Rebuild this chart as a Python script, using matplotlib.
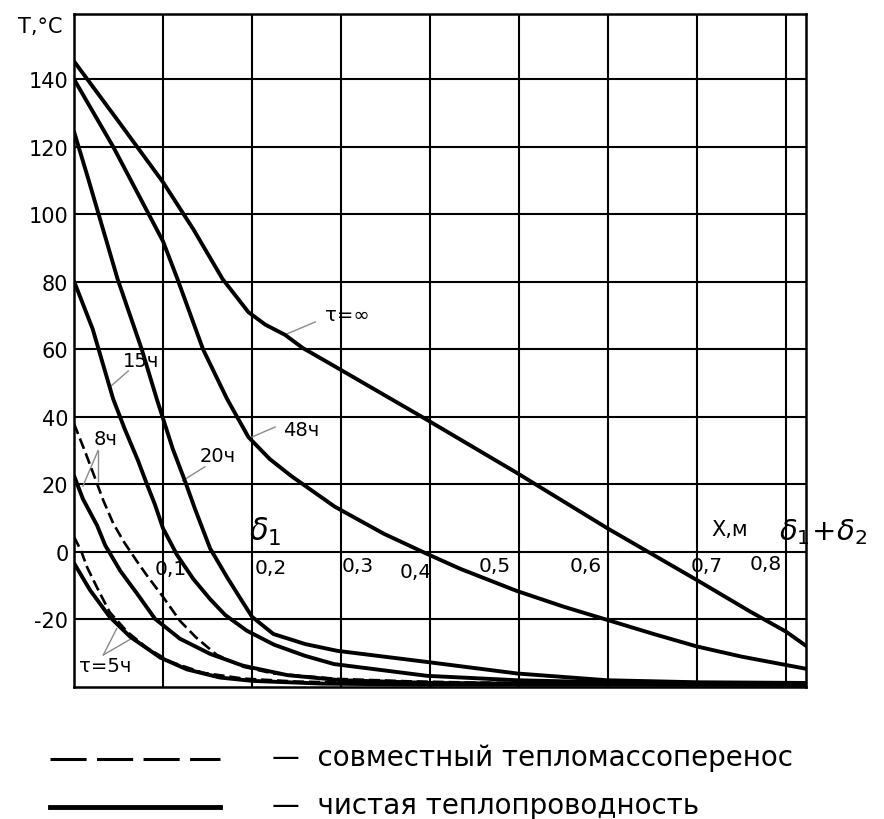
import numpy as np
import matplotlib
matplotlib.use("Agg")
import matplotlib.pyplot as plt
from matplotlib.lines import Line2D

plt.rcParams["font.family"] = ["DejaVu Sans"]
plt.rcParams["lines.scale_dashes"] = False

# ---------------- data (x in m, T in degC) ----------------
x_inf = [0, 0.05, 0.1, 0.134, 0.167, 0.196, 0.215, 0.237, 0.257, 0.294, 0.389, 0.497, 0.6, 0.701, 0.76, 0.8, 0.8225]
T_inf = [145.3, 127.5, 109.5, 95.6, 80.8, 71.0, 67.3, 64.3, 60.4, 54.8, 40.3, 23.5, 6.9, -8.5, -17.7, -23.6, -27.8]

x_48 = [0, 0.044, 0.1, 0.116, 0.145, 0.172, 0.196, 0.22, 0.244, 0.293, 0.348, 0.396, 0.434, 0.497, 0.55, 0.6, 0.65, 0.7, 0.75, 0.8225]
T_48 = [140, 120, 92, 81, 60, 45.3, 34, 27.5, 22.5, 13.4, 5.4, -0.5, -5, -11.5, -16.2, -20.2, -24.2, -28.0, -31.0, -34.6]

x_20 = [0, 0.016, 0.049, 0.076, 0.093, 0.111, 0.125, 0.136, 0.153, 0.172, 0.187, 0.2, 0.224, 0.26, 0.296, 0.394, 0.498, 0.599, 0.7, 0.8225]
T_20 = [124.5, 110.5, 80.8, 60.1, 45.3, 30.5, 20.8, 12.7, 1.0, -7.5, -13.8, -19.2, -24.3, -27.3, -29.3, -32.5, -36.0, -38.0, -38.6, -38.8]

x_15 = [0, 0.021, 0.044, 0.057, 0.072, 0.082, 0.091, 0.1, 0.116, 0.134, 0.153, 0.17, 0.194, 0.225, 0.26, 0.292, 0.397, 0.498, 0.58, 0.7, 0.8225]
T_15 = [80.2, 66.0, 45.3, 36.4, 27.0, 20.0, 14.0, 7.0, -1.0, -8.0, -14.0, -18.7, -23.3, -27.5, -30.8, -33.2, -36.7, -38.0, -38.5, -38.8, -38.9]

x_8 = [0, 0.01, 0.026, 0.035, 0.052, 0.071, 0.091, 0.119, 0.153, 0.19, 0.24, 0.3, 0.4, 0.55, 0.8225]
T_8 = [22.6, 15.7, 7.8, 2.0, -5.6, -12.4, -19.8, -25.7, -30.2, -33.7, -36.5, -38.0, -38.8, -39.1, -39.2]

x_8d = [0, 0.012, 0.023, 0.033, 0.044, 0.056, 0.07, 0.082, 0.1, 0.119, 0.137, 0.16, 0.19, 0.224, 0.296, 0.374, 0.45, 0.55, 0.8225]
T_8d = [38.0, 30.0, 22.3, 15.2, 8.5, 3.0, -2.5, -7.0, -13.3, -20.4, -25.3, -30.4, -34.0, -36.0, -37.6, -38.3, -38.7, -38.9, -39.0]

x_5d = [0, 0.008, 0.015, 0.026, 0.04, 0.06, 0.082, 0.108, 0.145, 0.19, 0.25, 0.35, 0.5, 0.8225]
T_5d = [4.5, 0.3, -4.7, -10.6, -17.8, -23.7, -28.4, -32.5, -35.8, -37.5, -38.4, -38.9, -39.2, -39.3]

x_5 = [0, 0.018, 0.04, 0.063, 0.097, 0.127, 0.164, 0.201, 0.28, 0.4, 0.8225]
T_5 = [-3.3, -11.3, -19.2, -25.1, -31.3, -34.8, -37.2, -38.2, -39.0, -39.3, -39.4]

solid_curves = [(x_inf, T_inf), (x_48, T_48), (x_20, T_20), (x_15, T_15), (x_8, T_8), (x_5, T_5)]
dashed_curves = [(x_8d, T_8d), (x_5d, T_5d)]

x_grid = [0.1, 0.2, 0.3, 0.4, 0.5, 0.6, 0.7, 0.8]
y_ticks = [-20, 0, 20, 40, 60, 80, 100, 120, 140]
y_ticklabels = ["-20", "0", "20", "40", "60", "80", "100", "120", "140"]
x_labels = ["0,1", "0,2", "0,3", "0,4", "0,5", "0,6", "0,7", "0,8"]
x_label_pos = [(0.109, -5.0), (0.221, -4.7), (0.319, -4.1), (0.384, -5.8),
               (0.473, -4.1), (0.575, -4.1), (0.711, -4.1), (0.777, -3.5)]

legend_texts = ["—  совместный тепломассоперенос", "—  чистая теплопроводность"]

# ---------------- figure ----------------
fig = plt.figure(figsize=(8.84, 8.2), dpi=100)
ax = fig.add_axes([74 / 884, 1 - 688 / 820, (806 - 74) / 884, (688 - 15) / 820])
ax.set_xlim(0, 0.8225)
ax.set_ylim(-40, 159.3)

ax.set_xticks(x_grid)
ax.set_xticklabels([])
ax.set_yticks(y_ticks)
ax.set_yticklabels(y_ticklabels, fontsize=15)
ax.tick_params(axis="both", length=0, pad=4)
ax.grid(True, color="black", lw=1.5, zorder=1)
for sp in ax.spines.values():
    sp.set_linewidth(1.8)
    sp.set_color("black")

for xs, ts in solid_curves:
    ax.plot(xs, ts, color="black", lw=2.8, solid_joinstyle="round",
            solid_capstyle="round", zorder=3)
for xs, ts in dashed_curves:
    ax.plot(xs, ts, color="black", lw=1.9, dashes=(8, 3.5), zorder=3)

for lab, (xx, yy) in zip(x_labels, x_label_pos):
    ax.text(xx, yy, lab, fontsize=14.5, ha="center", va="center", zorder=4)

ax.text(0.215, 6.3, r"$\delta_1$", fontsize=22, ha="center", va="center")
ax.text(0.737, 6.9, "Х,м", fontsize=15, ha="center", va="center")
ax.text(0.842, 6.3, r"$\delta_1\!+\!\delta_2$", fontsize=21, ha="center",
        va="center", clip_on=False)
ax.text(-0.038, 155.7, "T,°C", fontsize=15, ha="center", va="center", clip_on=False)

# curve labels with leader lines
lead = dict(color="#8a8a8a", lw=1.0, zorder=2)
ax.text(0.307, 70.2, "τ=∞", fontsize=14, ha="center", va="center")
ax.plot([0.271, 0.237], [68.1, 64.3], **lead)
ax.text(0.255, 36.4, "48ч", fontsize=14, ha="center", va="center")
ax.plot([0.226, 0.198], [37.0, 33.8], **lead)
ax.text(0.161, 28.5, "20ч", fontsize=14, ha="center", va="center")
ax.plot([0.147, 0.122], [25.2, 21.1], **lead)
ax.text(0.075, 56.6, "15ч", fontsize=14, ha="center", va="center")
ax.plot([0.061, 0.041], [53.6, 49.0], **lead)
ax.text(0.036, 33.5, "8ч", fontsize=14, ha="center", va="center")
ax.plot([0.027, 0.010], [30.0, 19.5], **lead)
ax.plot([0.027, 0.027], [30.0, 21.0], **lead)
ax.text(0.035, -33.7, "τ=5ч", fontsize=14, ha="center", va="center")
ax.plot([0.033, 0.048], [-30.5, -22.7], **lead)
ax.plot([0.033, 0.065], [-30.5, -25.6], **lead)

# ---------------- legend below ----------------
fig.add_artist(Line2D([50 / 884, 220 / 884], [1 - 760 / 820] * 2, color="black",
                      lw=2.2, dashes=(26, 7.5), transform=fig.transFigure))
fig.add_artist(Line2D([50 / 884, 220 / 884], [1 - 808 / 820] * 2, color="black",
                      lw=3.5, transform=fig.transFigure))
fig.text(272 / 884, 1 - 766 / 820, legend_texts[0], fontsize=20, ha="left", va="baseline")
fig.text(272 / 884, 1 - 814 / 820, legend_texts[1], fontsize=20, ha="left", va="baseline")

fig.savefig("out.png", dpi=100)
